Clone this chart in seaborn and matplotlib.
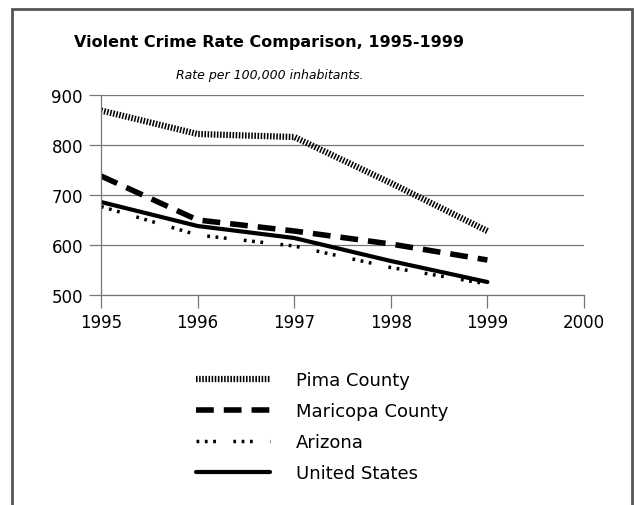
import pandas as pd
import seaborn as sns
import matplotlib.pyplot as plt
from matplotlib.patches import Rectangle

# Dados (taxa por 100.000 habitantes)
anos = [1995, 1996, 1997, 1998, 1999]
pima = [869, 822, 816, 724, 628]
maricopa = [738, 650, 628, 602, 570]
arizona = [677, 620, 598, 555, 522]
estados_unidos = [686, 638, 614, 568, 526]

series = {
    'Pima County': pima,
    'Maricopa County': maricopa,
    'Arizona': arizona,
    'United States': estados_unidos,
}
estilos = {
    'Pima County': dict(lw=4.5, ls=(0, (0.25, 0.25))),
    'Maricopa County': dict(lw=4, ls=(0, (3.2, 1.8))),
    'Arizona': dict(lw=2.5, ls=(0, (0.8, 1.6, 0.8, 1.6, 0.8, 5))),
    'United States': dict(lw=3, ls='-'),
}

df = pd.DataFrame([
    {'Ano': a, 'Taxa': v, 'Serie': nome}
    for nome, valores in series.items() for a, v in zip(anos, valores)
])

sns.set_style('white')
plt.rcParams['font.family'] = ['DejaVu Sans']
plt.rcParams['text.color'] = 'black'

fig = plt.figure(figsize=(6.34, 5.06), dpi=100)
ax = fig.add_axes([101 / 634, 1 - 296 / 506, 483 / 634, 200 / 506])

for nome in series:
    sub = df[df['Serie'] == nome]
    sns.lineplot(data=sub, x='Ano', y='Taxa', ax=ax, color='black',
                 linewidth=estilos[nome]['lw'], linestyle=estilos[nome]['ls'],
                 label=nome, legend=False)

ax.set_xlim(1995, 2000)
ax.set_ylim(500, 900)
ax.set_xticks([1995, 1996, 1997, 1998, 1999, 2000])
ax.set_yticks([500, 600, 700, 800, 900])
ax.set_xlabel('')
ax.set_ylabel('')
ax.yaxis.grid(True, color='#777777', linewidth=0.9)
ax.tick_params(axis='both', labelsize=12, length=9, width=0.9, color='#777777',
               labelcolor='black', direction='out', left=True, bottom=True, pad=4)
for lado in ['top', 'right']:
    ax.spines[lado].set_visible(False)
for lado in ['left', 'bottom']:
    ax.spines[lado].set_color('#777777')
    ax.spines[lado].set_linewidth(0.9)

fig.text(0.425, 1 - 43 / 506, 'Violent Crime Rate Comparison, 1995-1999',
         ha='center', va='center', fontsize=11.5, fontweight='bold', color='black')
fig.text(0.425, 1 - 75 / 506, 'Rate per 100,000 inhabitants.',
         ha='center', va='center', fontsize=9, style='italic', color='black')

handles, labels = ax.get_legend_handles_labels()
fig.legend(handles, labels, loc='upper left', bbox_to_anchor=(180 / 634, 1 - 356 / 506),
           frameon=False, fontsize=13, handlelength=4.1, handletextpad=1.4,
           labelspacing=0.72, labelcolor='black')

# Moldura cinza em volta da figura (aberta embaixo)
fig.patches.append(Rectangle((12 / 634, -0.05), 620 / 634, 1.05 - 10 / 506,
                             transform=fig.transFigure, fill=False,
                             edgecolor='#555555', linewidth=2))

plt.savefig('out.png', dpi=100)
